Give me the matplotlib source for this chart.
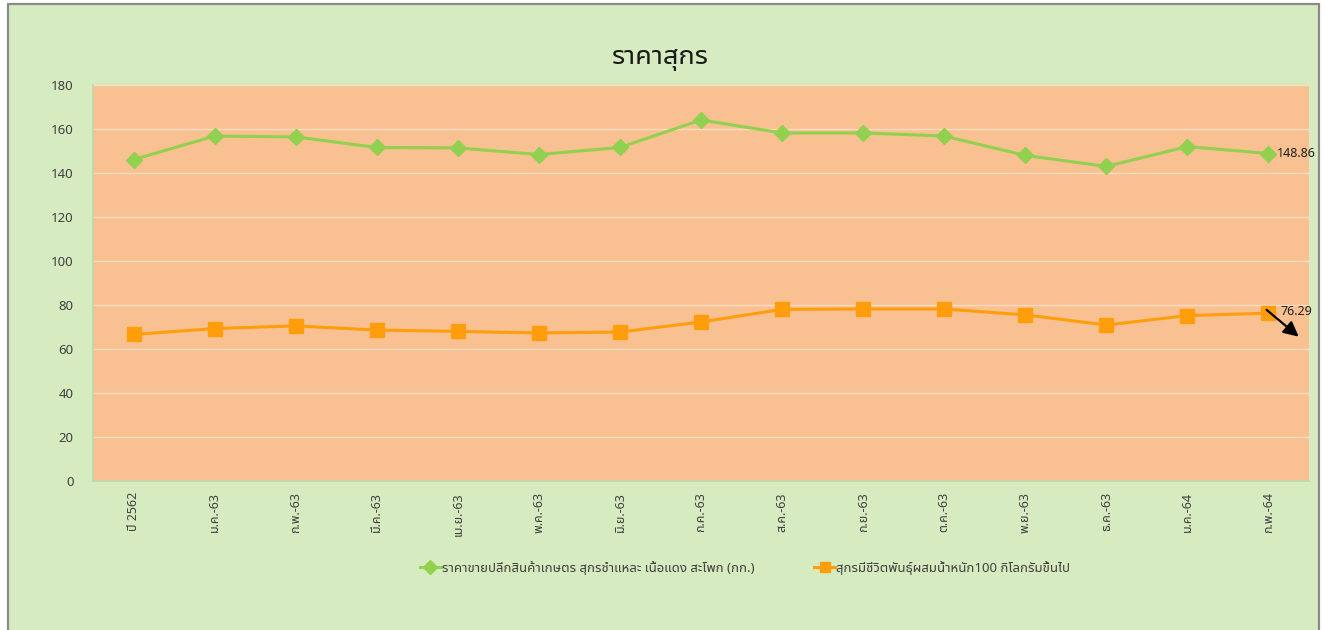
import matplotlib
matplotlib.use("Agg")
import matplotlib.pyplot as plt
from matplotlib.patches import Rectangle

plt.rcParams['font.family'] = ['Noto Sans Thai UI', 'Noto Sans', 'DejaVu Sans']

categories = ["ปี 2562", "ม.ค.-63", "ก.พ.-63", "มี.ค.-63", "เม.ย.-63", "พ.ค.-63", "มิ.ย.-63",
              "ก.ค.-63", "ส.ค.-63", "ก.ย.-63", "ต.ค.-63", "พ.ย.-63", "ธ.ค.-63", "ม.ค.-64", "ก.พ.-64"]
retail_pork = [146.1, 156.8, 156.4, 151.6, 151.4, 148.4, 151.6, 164.1, 158.2, 158.2, 156.8, 148.0, 143.0, 152.0, 148.86]
live_pig = [66.6, 69.3, 70.5, 68.6, 68.0, 67.3, 67.7, 72.3, 78.0, 78.2, 78.2, 75.5, 70.9, 75.2, 76.29]
series_names = ["ราคาขายปลีกสินค้าเกษตร สุกรชำแหละ เนื้อแดง สะโพก (กก.)",
                "สุกรมีชีวิตพันธุ์ผสมน้ำหนัก100 กิโลกรัมขึ้นไป"]
yticks = [0, 20, 40, 60, 80, 100, 120, 140, 160, 180]
title = "ราคาสุกร"

green = "#92D050"
orange = "#FF9E0A"
bg = "#D7EBC0"
plot_bg = "#F9C192"

fig = plt.figure(figsize=(13.27, 6.3), dpi=100)
fig.patch.set_facecolor("white")
W, H = 1327, 630
fig.patches.append(Rectangle((7.5 / W, -0.05), (1319 - 7.5) / W, 0.05 + (630 - 3.5) / H,
                             transform=fig.transFigure, facecolor=bg,
                             edgecolor="#8A8A8A", linewidth=1.6, zorder=-5))

ax = fig.add_axes([93 / W, 1 - 481 / H, (1309 - 93) / W, (481 - 85) / H])
ax.set_zorder(2)
ax.set_facecolor(plot_bg)
x = list(range(len(categories)))
ax.plot(x, retail_pork, color=green, lw=2.2, marker="D", ms=8, mec=green, mfc=green,
        label=series_names[0], zorder=3)
ax.plot(x, live_pig, color=orange, lw=2.2, marker="s", ms=10, mec=orange, mfc=orange,
        label=series_names[1], zorder=3)

ax.set_xlim(-0.5, len(categories) - 0.5)
ax.set_ylim(0, 180)
ax.set_yticks(yticks)
ax.set_xticks(x)
ax.set_xticklabels(categories, rotation=90, fontsize=9, color="#404040")
ax.tick_params(axis="y", labelsize=9.5, colors="#404040", length=0, pad=14)
ax.tick_params(axis="x", length=0, pad=8)
ax.grid(axis="y", color="#FCDCC0", lw=1.0)
ax.set_axisbelow(True)
for s in ["top", "right"]:
    ax.spines[s].set_visible(False)
for s in ["left", "bottom"]:
    ax.spines[s].set_color("#BFD7A8")
    ax.spines[s].set_linewidth(1.2)

ax.annotate(f"{retail_pork[-1]:.2f}", (x[-1], retail_pork[-1]), xytext=(6, 0),
            textcoords="offset points", va="center", ha="left", fontsize=9, color="#202020")
ax.annotate(f"{live_pig[-1]:.2f}", (x[-1], live_pig[-1]), xytext=(9, 1),
            textcoords="offset points", va="center", ha="left", fontsize=9, color="#202020")
ax.annotate("", xy=(x[-1] + 0.40, 64.8), xytext=(x[-1] - 0.05, 78.6),
            arrowprops=dict(arrowstyle="-|>,head_length=0.9,head_width=0.45", color="black", lw=1.6))

fig.text(660 / W, 1 - 57 / H, title, ha="center", va="center", fontsize=19.5,
         fontweight="bold", color="#1A1A1A")

leg = fig.legend(loc="center", bbox_to_anchor=(745 / W, 1 - 568 / H), ncol=2, frameon=False,
                 fontsize=9.5, handlelength=1.6, handletextpad=0.1, columnspacing=4.5,
                 labelcolor="#404040")
for h in leg.legend_handles:
    h.set_markersize(7)

fig.savefig("out.png", dpi=100, facecolor=fig.get_facecolor())
